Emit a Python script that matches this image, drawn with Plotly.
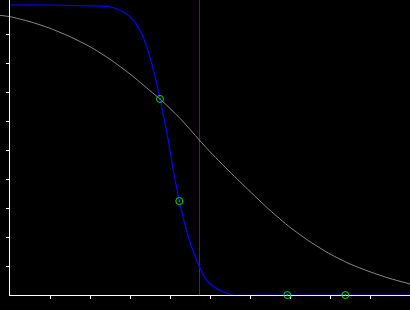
import plotly.graph_objects as go

# Grey (wide) curve
grey_x = [-0.25, 0.0, 0.5, 1.0, 1.5, 2.0, 2.5, 3.0, 3.5, 3.75, 4.25, 4.733, 4.958,
          5.5, 6.0, 6.5, 7.0, 7.5, 8.0, 8.5, 9.0, 9.5, 10.0]
grey_y = [0.9645, 0.9597, 0.9424, 0.9197, 0.8907, 0.8562, 0.8128, 0.7621, 0.7045,
          0.6759, 0.6093, 0.5345, 0.5, 0.4240, 0.3570, 0.2920, 0.2334, 0.1838,
          0.1414, 0.1069, 0.0800, 0.0570, 0.0379]

# Blue (steep) curve
blue_x = [0.0, 1.0, 2.0, 2.5, 2.833, 3.083, 3.292, 3.417, 3.542, 3.667, 3.75, 3.875,
          4.0, 4.083, 4.233, 4.333, 4.458, 4.583, 4.733, 4.875, 5.083, 5.333, 5.583,
          6.5, 8.0, 10.0]
blue_y = [1.0, 1.0, 0.997, 0.994, 0.977, 0.948, 0.902, 0.856, 0.799, 0.730, 0.676,
          0.593, 0.5, 0.431, 0.324, 0.266, 0.201, 0.149, 0.098, 0.058, 0.029, 0.011,
          0.0, 0.0, 0.0, 0.0]

# Green markers
pts_x = [3.75, 4.233, 6.933, 8.383]
pts_y = [0.676, 0.324, 0.0, 0.0]

# Vertical marker line
vline_x = 4.7375

x_ticks = [1, 2, 3, 4, 5, 6, 7, 8, 9]
y_ticks = [0.1, 0.2, 0.3, 0.4, 0.5, 0.6, 0.7, 0.8, 0.9]

W, H = 410, 310
left_px, bottom_px = 10, 15

fig = go.Figure()

fig.add_trace(go.Scatter(x=grey_x, y=grey_y, mode="lines",
                         line=dict(color="#8a8a8a", width=1, shape="spline", smoothing=0.6),
                         xaxis="x", yaxis="y", hoverinfo="skip", showlegend=False))
fig.add_trace(go.Scatter(x=blue_x, y=blue_y, mode="lines",
                         line=dict(color="#0000ff", width=1.2, shape="spline", smoothing=0.6),
                         xaxis="x2", yaxis="y2", hoverinfo="skip", showlegend=False))
fig.add_trace(go.Scatter(x=pts_x, y=pts_y, mode="markers",
                         marker=dict(symbol="circle-open-dot", size=7, color="#00e000",
                                     line=dict(width=1, color="#00e000")),
                         xaxis="x2", yaxis="y2", hoverinfo="skip", showlegend=False,
                         cliponaxis=False))

px_per_x = (W - left_px) / 10.0
px_per_y = 290.0
y_top = (H - bottom_px) / px_per_y

fig.add_shape(type="line", xref="x2", yref="y2 domain", x0=vline_x, x1=vline_x,
              y0=0, y1=1, line=dict(color="#800080", width=1), layer="below")

axis_common = dict(showgrid=False, zeroline=False, showline=True, linecolor="white",
                   linewidth=1, ticks="outside", ticklen=3, tickwidth=1,
                   tickcolor="white", showticklabels=False, layer="below traces",
                   fixedrange=True)

fig.update_layout(
    width=W, height=H,
    margin=dict(l=0, r=0, t=0, b=0),
    paper_bgcolor="black",
    plot_bgcolor="rgba(0,0,0,0)",
    xaxis=dict(domain=[0, 1], range=[-left_px / px_per_x, 10], visible=False,
               anchor="y"),
    yaxis=dict(domain=[0, 1], range=[-bottom_px / px_per_y, y_top], visible=False,
               anchor="x"),
    xaxis2=dict(domain=[left_px / W, 1], range=[0, 10], anchor="y2",
                tickvals=x_ticks, **axis_common),
    yaxis2=dict(domain=[bottom_px / H, 1], range=[0, y_top], anchor="x2",
                tickvals=y_ticks, **axis_common),
    showlegend=False,
)

fig.write_html("out.html")
